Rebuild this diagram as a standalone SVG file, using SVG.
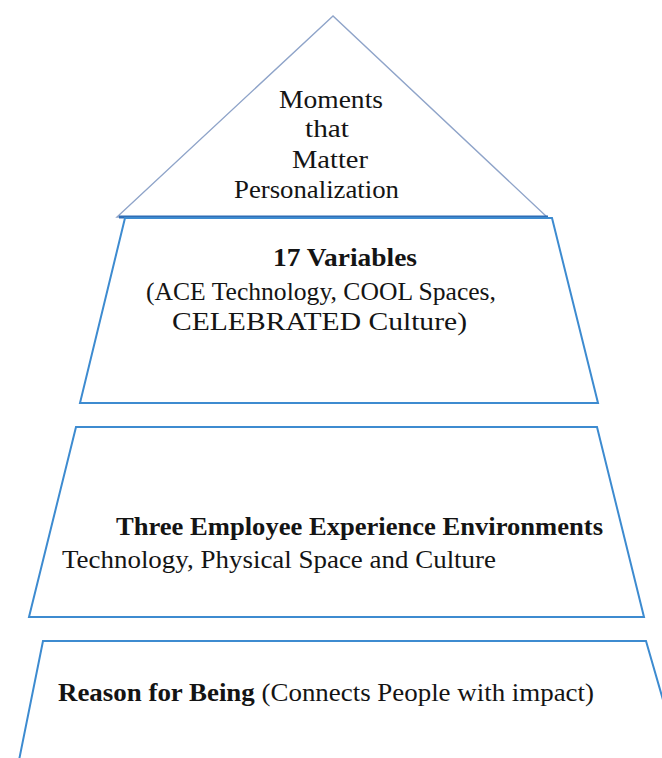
<svg xmlns="http://www.w3.org/2000/svg" width="662" height="758" viewBox="0 0 662 758">
  <style>
    .tier { fill: #ffffff; stroke: #3d8bd0; stroke-width: 2; stroke-linejoin: miter; }
    .apex { fill: #ffffff; stroke: #8fa4c9; stroke-width: 1.4; }
    .apex-base { stroke: #2e6db5; stroke-width: 3; }
    text { font-family: "Liberation Serif", "Times New Roman", serif; font-size: 26px; fill: #141414; }
    .b { font-weight: bold; }
  </style>
  <rect width="662" height="758" fill="#ffffff"/>

  <!-- top: triangle -->
  <g id="apex-moments">
    <polygon class="apex" points="333,16 117,217 547,217"/>
    <line class="apex-base" x1="119" y1="217" x2="548" y2="217"/>
    <text x="279" y="108" textLength="104" lengthAdjust="spacingAndGlyphs">Moments</text>
    <text x="305" y="137" textLength="44" lengthAdjust="spacingAndGlyphs">that</text>
    <text x="292" y="168" textLength="76" lengthAdjust="spacingAndGlyphs">Matter</text>
    <text x="234" y="198" textLength="165" lengthAdjust="spacingAndGlyphs">Personalization</text>
  </g>

  <!-- tier 2: variables -->
  <g id="tier-variables">
    <polygon class="tier" points="125,218 552,218 598,403 80,403"/>
    <text class="b" x="273" y="266" textLength="144" lengthAdjust="spacingAndGlyphs">17 Variables</text>
    <text x="146" y="300" textLength="350" lengthAdjust="spacingAndGlyphs">(ACE Technology, COOL Spaces,</text>
    <text x="172" y="330" textLength="295" lengthAdjust="spacingAndGlyphs">CELEBRATED Culture)</text>
  </g>

  <!-- tier 3: environments -->
  <g id="tier-environments">
    <polygon class="tier" points="76,427 597,427 644,617 29,617"/>
    <text class="b" x="116" y="535" textLength="487" lengthAdjust="spacingAndGlyphs">Three Employee Experience Environments</text>
    <text x="62" y="568" textLength="434" lengthAdjust="spacingAndGlyphs">Technology, Physical Space and Culture</text>
  </g>

  <!-- base tier: reason for being -->
  <g id="tier-reason">
    <polyline class="tier" fill="none" points="7,820 43,641 646,641 676,745"/>
    <text x="58" y="701" textLength="536" lengthAdjust="spacingAndGlyphs"><tspan class="b">Reason for Being</tspan> (Connects People with impact)</text>
  </g>

  <g id="connectors"/>
</svg>
